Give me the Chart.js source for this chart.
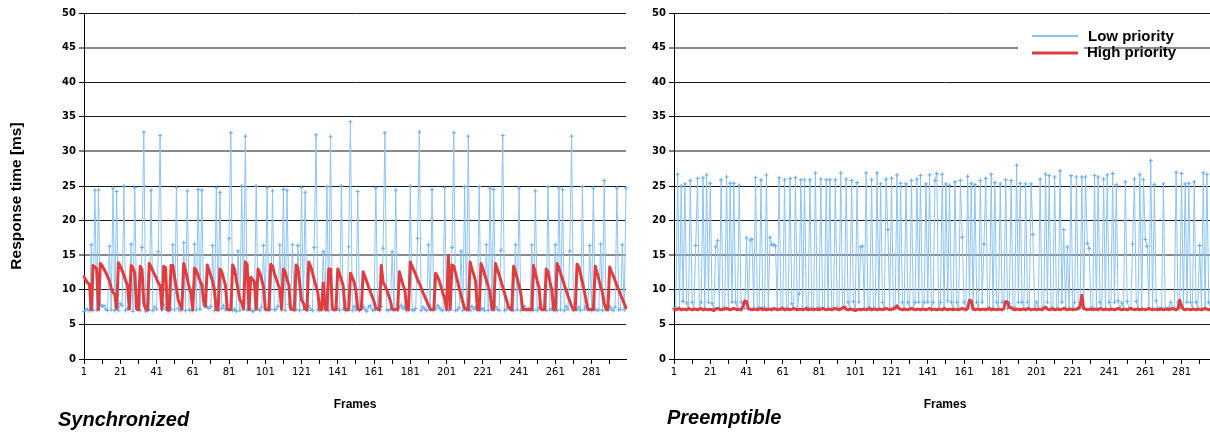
<!DOCTYPE html>
<html>
<head>
<meta charset="utf-8">
<script src="https://cdn.jsdelivr.net/npm/chart.js@4.4.1/dist/chart.umd.min.js"></script>
<style>
html, body { margin: 0; padding: 0; background: #fff; width: 1210px; height: 432px; overflow: hidden; }
canvas { position: absolute; top: 0; }
#chartSync { left: 0; }
#chartPre { left: 636px; }
.caption { position: absolute; font-family: "Liberation Sans", Arial, sans-serif; font-weight: bold;
  font-style: italic; font-size: 20px; line-height: 20px; color: #000; white-space: nowrap; }
</style>
</head>
<body>
<canvas id="chartSync" width="640" height="432"></canvas>
<canvas id="chartPre" width="590" height="432"></canvas>
<div class="caption" style="left:58px; top:409px;">Synchronized</div>
<div class="caption" style="left:667px; top:407px;">Preemptible</div>
<script>
// x tick labels shown under the frame axis
const tickLabels = [1, 21, 41, 61, 81, 101, 121, 141, 161, 181, 201, 221, 241, 261, 281];

// frame numbers 1..300
const frames = [];
for (let i = 1; i <= 300; i++) frames.push(i);

// Synchronized - low priority (ms)
const syncLow = [
  6.9, 7.1, 7.2, 7.0, 16.5, 7.0, 24.4, 7.1, 24.4, 7.9,
  7.6, 7.7, 7.2, 7.0, 16.3, 7.1, 24.7, 7.0, 24.2, 7.0,
  8.0, 7.7, 25.0, 7.0, 7.3, 7.6, 16.6, 6.9, 24.8, 7.4,
  7.2, 7.0, 16.1, 32.8, 6.9, 7.0, 7.1, 24.4, 7.0, 7.5,
  7.2, 15.5, 32.3, 7.1, 7.9, 7.3, 7.0, 6.9, 7.2, 16.5,
  7.1, 24.8, 7.3, 7.0, 7.1, 16.8, 7.0, 24.3, 7.1, 7.0,
  7.0, 16.6, 7.1, 24.5, 7.2, 24.4, 7.8, 7.6, 7.5, 7.3,
  7.6, 16.4, 7.0, 24.8, 7.0, 24.1, 7.3, 7.7, 7.1, 7.2,
  17.4, 32.7, 7.0, 7.2, 6.9, 15.6, 7.0, 25.0, 8.0, 32.2,
  7.1, 7.6, 7.2, 6.9, 7.0, 25.0, 7.2, 7.0, 7.5, 16.4,
  7.1, 24.8, 7.0, 7.2, 24.3, 7.1, 7.2, 7.6, 16.5, 7.1,
  24.5, 7.0, 24.4, 7.9, 7.6, 16.5, 7.0, 7.1, 16.4, 7.0,
  24.8, 7.2, 24.1, 7.0, 7.7, 7.2, 7.0, 16.1, 32.4, 7.1,
  7.0, 7.2, 15.5, 7.1, 24.9, 7.0, 32.1, 7.8, 7.1, 7.6,
  7.3, 7.0, 25.0, 7.2, 7.0, 7.1, 16.2, 34.3, 7.0, 7.6,
  7.1, 24.2, 7.0, 7.3, 7.6, 7.2, 6.9, 7.5, 7.7, 7.1,
  7.0, 24.8, 7.2, 7.0, 7.6, 16.0, 32.7, 7.1, 7.0, 7.2,
  15.5, 7.0, 24.4, 7.1, 7.5, 7.8, 7.3, 7.6, 7.0, 7.2,
  25.0, 7.1, 7.0, 7.3, 17.4, 32.8, 7.0, 7.5, 7.2, 7.0,
  16.5, 7.1, 24.5, 7.0, 7.2, 7.7, 7.4, 7.1, 7.0, 24.8,
  7.1, 7.0, 7.2, 16.1, 32.7, 7.0, 7.1, 7.4, 15.6, 7.0,
  24.9, 7.1, 32.2, 7.0, 7.6, 7.2, 7.5, 7.0, 24.9, 7.1,
  7.3, 7.0, 16.5, 7.0, 24.7, 7.1, 24.5, 7.6, 7.2, 7.0,
  15.7, 32.3, 7.0, 7.2, 7.6, 7.4, 7.1, 7.0, 16.5, 7.1,
  24.7, 7.0, 7.2, 7.6, 7.1, 7.3, 7.0, 16.5, 7.1, 24.3,
  7.0, 7.4, 7.8, 7.2, 7.6, 7.0, 24.9, 7.1, 7.2, 7.0,
  16.5, 7.0, 24.8, 7.1, 24.5, 7.0, 7.6, 7.2, 15.6, 32.2,
  7.0, 7.3, 7.1, 7.5, 7.0, 24.9, 7.2, 7.6, 7.1, 16.4,
  7.0, 24.7, 7.2, 7.0, 7.1, 16.6, 7.0, 25.8, 7.1, 7.3,
  7.6, 7.2, 7.0, 7.5, 24.7, 7.1, 7.2, 16.5, 7.1, 24.7
];

// Synchronized - high priority (ms)
const syncHigh = [
  11.9, 11.4, 11.0, 10.8, 7.1, 13.5, 13.3, 13.0, 7.1, 13.8,
  13.5, 13.0, 12.5, 11.9, 11.3, 10.3, 9.6, 9.4, 7.3, 13.9,
  13.4, 12.8, 12.1, 11.3, 10.7, 7.2, 13.5, 13.2, 12.4, 7.2,
  7.1, 13.4, 12.9, 8.0, 7.2, 7.1, 13.8, 13.3, 12.7, 12.2,
  11.6, 11.0, 10.6, 7.2, 13.4, 13.2, 7.1, 7.1, 13.5, 13.5,
  11.8, 10.2, 8.5, 7.9, 7.2, 13.8, 12.8, 11.6, 10.4, 9.5,
  7.1, 13.1, 12.8, 12.0, 11.3, 10.7, 8.3, 7.6, 13.6, 12.8,
  12.0, 11.2, 9.9, 7.1, 7.1, 13.0, 12.6, 11.6, 10.7, 7.2,
  7.1, 7.1, 13.6, 13.0, 11.5, 10.0, 8.5, 8.2, 7.2, 14.0,
  13.7, 7.1, 11.8, 11.5, 11.1, 7.2, 13.0, 12.4, 11.5, 10.4,
  7.2, 7.1, 7.1, 13.7, 13.4, 12.4, 11.6, 10.8, 10.2, 7.2,
  13.0, 12.6, 11.5, 10.7, 7.2, 7.2, 7.1, 13.6, 13.2, 11.0,
  8.5, 8.1, 7.2, 7.1, 14.0, 13.4, 12.5, 11.5, 10.5, 9.6,
  7.2, 7.1, 11.0, 7.2, 7.1, 13.0, 13.0, 7.2, 7.1, 7.1,
  13.0, 12.3, 11.4, 10.6, 7.2, 7.1, 7.1, 12.4, 11.8, 11.1,
  9.9, 7.2, 7.1, 7.2, 12.6, 11.9, 11.2, 10.4, 9.7, 9.0,
  8.3, 7.3, 7.2, 7.1, 13.5, 11.1, 10.6, 10.0, 9.2, 8.4,
  7.2, 7.1, 7.2, 7.1, 12.6, 11.6, 10.7, 10.0, 7.2, 7.1,
  14.0, 13.4, 12.8, 12.2, 11.5, 10.9, 10.3, 9.6, 9.0, 8.4,
  7.8, 7.2, 7.1, 7.2, 12.4, 11.9, 11.3, 10.4, 9.5, 8.7,
  7.2, 15.0, 7.2, 13.6, 13.4, 12.4, 11.3, 10.2, 9.2, 8.2,
  7.3, 7.2, 7.1, 14.0, 13.0, 12.2, 11.3, 7.2, 7.1, 13.8,
  13.1, 12.2, 11.4, 10.5, 9.6, 7.2, 7.1, 13.8, 13.0, 12.2,
  11.3, 10.4, 9.5, 8.6, 7.6, 7.2, 7.1, 13.4, 12.6, 11.6,
  10.6, 9.4, 7.2, 7.1, 7.2, 7.1, 7.2, 7.1, 13.5, 12.4,
  11.3, 10.4, 7.2, 7.1, 7.1, 13.0, 12.6, 11.2, 10.1, 7.2,
  7.1, 13.8, 13.1, 12.3, 11.5, 10.7, 9.9, 9.1, 8.4, 7.6,
  7.1, 7.1, 13.7, 13.3, 12.2, 11.0, 9.8, 8.5, 7.2, 7.1,
  7.2, 7.1, 13.4, 12.5, 11.5, 10.5, 9.6, 8.0, 7.2, 7.1,
  13.3, 12.6, 12.0, 11.3, 10.6, 10.0, 9.3, 8.7, 8.0, 7.4
];

// Preemptible - low priority (ms)
const preLow = [
  7.3, 7.4, 26.7, 7.3, 25.0, 8.3, 25.3, 8.1, 7.3, 25.8,
  8.2, 7.3, 16.4, 26.1, 7.3, 8.2, 26.2, 7.3, 26.6, 8.2,
  25.4, 8.0, 7.3, 16.2, 17.1, 7.3, 25.9, 7.3, 7.4, 26.3,
  7.3, 25.4, 8.2, 25.4, 8.2, 7.3, 25.1, 8.2, 8.0, 7.3,
  17.5, 7.3, 17.2, 17.3, 7.3, 26.2, 7.3, 7.4, 25.9, 7.3,
  7.4, 26.6, 7.3, 17.6, 16.5, 16.5, 16.3, 7.3, 26.2, 7.3,
  7.4, 25.9, 7.3, 7.3, 26.1, 8.0, 7.3, 26.2, 7.3, 9.4,
  25.9, 7.3, 25.9, 7.3, 7.4, 25.9, 7.3, 7.3, 26.9, 7.3,
  7.4, 26.0, 7.3, 7.3, 25.9, 7.3, 25.9, 7.3, 7.4, 25.9,
  7.3, 7.3, 26.9, 7.3, 7.4, 26.0, 8.2, 7.3, 25.8, 8.3,
  7.3, 25.5, 8.2, 16.2, 16.3, 7.3, 26.9, 7.3, 7.4, 25.9,
  7.3, 7.3, 26.9, 7.3, 25.3, 8.2, 7.3, 26.0, 18.7, 7.3,
  26.1, 7.4, 7.3, 26.6, 7.3, 25.4, 8.2, 7.3, 25.3, 8.2,
  7.3, 25.8, 7.3, 8.2, 26.0, 8.2, 26.5, 7.3, 8.2, 25.3,
  8.2, 26.6, 7.3, 8.2, 25.8, 26.8, 7.3, 8.2, 26.7, 7.3,
  25.3, 8.4, 25.1, 8.2, 7.3, 25.6, 8.2, 7.3, 25.8, 17.6,
  8.2, 7.3, 26.4, 8.2, 25.4, 7.3, 25.2, 8.2, 7.3, 25.8,
  8.2, 16.6, 26.1, 7.3, 7.4, 26.7, 7.3, 25.5, 8.2, 7.3,
  25.3, 8.2, 8.2, 25.9, 7.3, 8.0, 25.8, 7.3, 7.4, 28.0,
  8.2, 25.4, 8.2, 7.3, 25.3, 8.2, 7.3, 25.3, 18.0, 7.3,
  8.2, 7.3, 26.0, 7.3, 7.4, 26.7, 8.2, 26.5, 7.3, 7.4,
  26.3, 7.3, 7.3, 27.2, 8.2, 18.7, 7.4, 16.2, 7.3, 26.5,
  7.3, 8.2, 26.3, 7.3, 7.4, 26.3, 7.3, 26.3, 16.7, 16.0,
  7.3, 7.4, 26.5, 7.3, 26.3, 8.2, 7.3, 26.0, 7.3, 26.6,
  8.2, 7.3, 26.8, 8.2, 25.2, 8.4, 7.3, 8.1, 7.3, 25.6,
  8.3, 7.3, 7.3, 16.6, 26.0, 8.3, 7.3, 26.7, 7.3, 25.9,
  17.3, 16.3, 7.2, 28.7, 7.3, 25.2, 8.4, 7.3, 7.3, 7.4,
  25.3, 7.3, 7.3, 7.4, 8.2, 7.3, 7.3, 27.0, 8.2, 7.3,
  26.8, 7.3, 25.3, 8.2, 25.4, 8.2, 7.3, 25.6, 8.2, 7.3,
  16.4, 7.3, 26.9, 7.3, 26.7, 8.2, 7.3, 26.0, 7.3, 25.5
];

// Preemptible - high priority (ms)
const preHigh = [
  7.2, 7.1, 7.2, 7.3, 7.1, 7.2, 7.2, 7.1, 7.3, 7.2,
  7.1, 7.2, 7.2, 7.1, 7.2, 7.3, 7.1, 7.2, 7.2, 7.1,
  7.2, 7.1, 7.0, 7.2, 7.3, 7.2, 7.1, 7.2, 7.2, 7.3,
  7.2, 7.1, 7.2, 7.3, 7.2, 7.1, 7.2, 7.1, 7.6, 8.4,
  8.3, 7.3, 7.2, 7.1, 7.2, 7.2, 7.1, 7.2, 7.3, 7.1,
  7.2, 7.1, 7.2, 7.2, 7.1, 7.3, 7.2, 7.1, 7.2, 7.2,
  7.3, 7.1, 7.2, 7.2, 7.1, 7.2, 7.3, 7.2, 7.1, 7.2,
  7.2, 7.1, 7.2, 7.3, 7.1, 7.2, 7.2, 7.1, 7.2, 7.2,
  7.1, 7.2, 7.3, 7.2, 7.1, 7.2, 7.2, 7.1, 7.2, 7.3,
  7.2, 7.1, 7.2, 7.4, 7.5, 7.2, 7.1, 7.2, 7.2, 7.1,
  7.0, 7.1, 7.2, 7.1, 7.2, 7.2, 7.1, 7.2, 7.3, 7.1,
  7.2, 7.2, 7.1, 7.2, 7.2, 7.1, 7.2, 7.3, 7.2, 7.1,
  7.2, 7.2, 7.4, 7.7, 7.3, 7.2, 7.1, 7.2, 7.2, 7.1,
  7.2, 7.3, 7.2, 7.1, 7.2, 7.2, 7.1, 7.2, 7.2, 7.1,
  7.2, 7.3, 7.1, 7.2, 7.2, 7.1, 7.2, 7.2, 7.1, 7.3,
  7.2, 7.1, 7.2, 7.2, 7.1, 7.2, 7.2, 7.1, 7.2, 7.3,
  7.2, 7.1, 7.3, 8.5, 8.4, 7.2, 7.1, 7.2, 7.2, 7.1,
  7.2, 7.2, 7.1, 7.2, 7.3, 7.1, 7.2, 7.2, 7.1, 7.2,
  7.2, 7.1, 7.3, 8.3, 8.2, 7.5, 7.4, 7.2, 7.1, 7.2,
  7.2, 7.1, 7.2, 7.2, 7.1, 7.3, 7.2, 7.1, 7.2, 7.2,
  7.1, 7.2, 7.2, 7.1, 7.3, 7.5, 7.2, 7.1, 7.2, 7.2,
  7.1, 7.2, 7.2, 7.1, 7.2, 7.3, 7.2, 7.1, 7.2, 7.2,
  7.1, 7.2, 7.2, 7.3, 7.6, 9.2, 7.3, 7.2, 7.1, 7.2,
  7.2, 7.1, 7.2, 7.2, 7.1, 7.3, 7.2, 7.1, 7.2, 7.2,
  7.1, 7.2, 7.2, 7.1, 7.2, 7.3, 7.2, 7.1, 7.2, 7.2,
  7.1, 7.2, 7.3, 7.2, 7.1, 7.2, 7.2, 7.1, 7.2, 7.2,
  7.1, 7.2, 7.3, 7.2, 7.1, 7.2, 7.2, 7.1, 7.2, 7.2,
  7.1, 7.2, 7.2, 7.1, 7.2, 7.3, 7.2, 7.1, 7.3, 8.5,
  7.6, 7.2, 7.1, 7.2, 7.2, 7.1, 7.2, 7.2, 7.1, 7.2,
  7.2, 7.1, 7.2, 7.3, 7.2, 7.1, 7.2, 7.2, 7.1, 7.2
];

const BLUE = '#8cc3f4';
const BLUE_MARK = '#6aaef0';
const RED = '#e03e3e';

// gridlines that render thicker / grey in the original picture
const heavyLines = [15, 30, 45];

function yAxis(width) {
  return {
    min: 0,
    max: 50,
    ticks: {
      stepSize: 5,
      color: '#000',
      padding: 3,
      font: { family: 'DejaVu Sans', weight: 'bold', size: 10 }
    },
    grid: {
      color: c => heavyLines.includes(c.tick.value) ? '#8a8a8a' : '#1a1a1a',
      lineWidth: c => heavyLines.includes(c.tick.value) ? 2 : 1,
      tickColor: '#000',
      tickWidth: 1,
      tickLength: 5
    },
    border: { color: '#000', width: 1 },
    afterFit: s => { s.width = width; }
  };
}

function xAxis() {
  return {
    type: 'category',
    offset: false,
    ticks: {
      autoSkip: false,
      maxRotation: 0,
      minRotation: 0,
      color: '#000',
      padding: 2,
      font: { family: 'DejaVu Sans', size: 10 },
      callback: function (v) {
        const l = Number(this.getLabelForValue(v));
        return tickLabels.includes(l) ? String(l) : '';
      }
    },
    grid: {
      drawOnChartArea: false,
      tickLength: 5,
      color: c => (c.index % 10 === 0 ? '#000' : 'rgba(0,0,0,0)')
    },
    border: { color: '#000', width: 1 },
    title: {
      display: true,
      text: 'Frames',
      color: '#000',
      font: { family: 'Liberation Sans', weight: 'bold', size: 12 },
      padding: { top: 0, bottom: 20 }
    },
    afterFit: s => { s.height = 73; }
  };
}

// rotated y axis title, placed where the original has it
const yTitle = {
  id: 'yTitle',
  afterDraw(chart) {
    const ctx = chart.ctx;
    ctx.save();
    ctx.translate(17, 196);
    ctx.rotate(-Math.PI / 2);
    ctx.fillStyle = '#000';
    ctx.font = 'bold 15.5px "Liberation Sans", Arial, sans-serif';
    ctx.textAlign = 'center';
    ctx.textBaseline = 'middle';
    ctx.fillText('Response time [ms]', 0, 0);
    ctx.restore();
  }
};

// legend drawn inside the plot, top right (only on the preemptible chart)
const insideLegend = {
  id: 'insideLegend',
  afterDraw(chart) {
    const ctx = chart.ctx;
    const ds = chart.data.datasets;
    ctx.save();
    ctx.fillStyle = '#fff';
    ctx.fillRect(382, 29, 66, 32);
    ctx.lineCap = 'butt';
    ctx.strokeStyle = BLUE;
    ctx.lineWidth = 2;
    ctx.beginPath(); ctx.moveTo(396, 36); ctx.lineTo(442, 36); ctx.stroke();
    ctx.strokeStyle = RED;
    ctx.lineWidth = 3;
    ctx.beginPath(); ctx.moveTo(396, 53); ctx.lineTo(442, 53); ctx.stroke();
    ctx.fillStyle = '#000';
    ctx.font = 'bold 15px "Liberation Sans", Arial, sans-serif';
    ctx.textBaseline = 'middle';
    ctx.fillText(ds[0].label, 452, 37);
    ctx.fillText(ds[1].label, 451, 53);
    ctx.restore();
  }
};

function makeChart(id, low, high, yWidth, padRight, plugins) {
  return new Chart(document.getElementById(id), {
    type: 'line',
    data: {
      labels: frames,
      datasets: [
        {
          label: 'Low priority',
          data: low,
          borderColor: BLUE,
          borderWidth: 1,
          borderJoinStyle: 'round',
          pointStyle: 'cross',
          pointRadius: 2,
          pointBorderColor: BLUE_MARK,
          pointBorderWidth: 1,
          order: 1
        },
        {
          label: 'High priority',
          data: high,
          borderColor: RED,
          borderWidth: 3,
          borderJoinStyle: 'round',
          borderCapStyle: 'round',
          pointRadius: 0,
          order: 0
        }
      ]
    },
    options: {
      responsive: false,
      animation: false,
      devicePixelRatio: 1,
      elements: { line: { tension: 0 } },
      layout: { padding: { left: 0, right: padRight, top: 13, bottom: 0 } },
      plugins: { legend: { display: false }, tooltip: { enabled: false } },
      scales: { x: xAxis(), y: yAxis(yWidth) }
    },
    plugins: plugins
  });
}

makeChart('chartSync', syncLow, syncHigh, 84, 14, [yTitle]);
makeChart('chartPre', preLow, preHigh, 38, 10, [insideLegend]);
</script>
</body>
</html>
